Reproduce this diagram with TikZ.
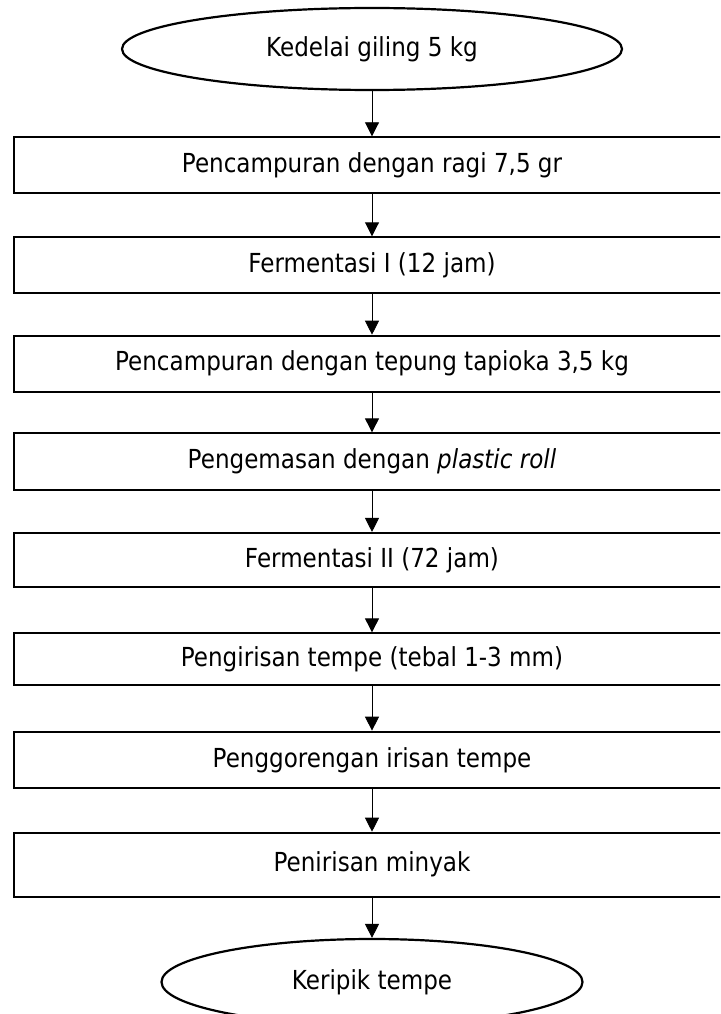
\documentclass[tikz,border=0pt]{standalone}
\usepackage{fontspec}
\setmainfont{DejaVu Sans}[FakeStretch=0.88]
\usetikzlibrary{shapes.geometric}
\usetikzlibrary{arrows.meta}

\begin{document}
\begin{tikzpicture}[x=1pt, y=-1pt,
  every node/.style={font=\fontsize{26.2}{30}\selectfont},
  proses/.style={draw, line width=2pt, minimum width=717pt, inner sep=0pt},
  ujung/.style={draw, ellipse, line width=2.2pt, inner sep=0pt},
  panah/.style={-{Triangle[width=14pt,length=14pt]}, line width=0.9pt}]
  \useasboundingbox (0,0) rectangle (720,1014);
  \clip (0,0) rectangle (720,1014);

  % awal dan akhir
  \node[ujung, minimum width=500pt, minimum height=82pt] (awal) at (372,49) {Kedelai giling 5 kg};
  \node[ujung, minimum width=421pt, minimum height=86pt] (akhir) at (372,982) {Keripik tempe};

  % tahapan proses
  \node[proses, minimum height=56pt] (campur) at (372,165.3) {Pencampuran dengan ragi 7,5 gr};
  \node[proses, minimum height=56pt] (ferm1) at (372,265.3) {Fermentasi I (12 jam)};
  \node[proses, minimum height=56pt] (tapioka) at (372,363.7) {Pencampuran dengan tepung tapioka 3,5 kg};
  \node[proses, minimum height=56.7pt] (kemas) at (372,461.7) {Pengemasan dengan \textit{plastic roll}};
  \node[proses, minimum height=53.7pt] (ferm2) at (372,559.8) {Fermentasi II (72 jam)};
  \node[proses, minimum height=51.7pt] (iris) at (372,659.2) {Pengirisan tempe (tebal 1-3 mm)};
  \node[proses, minimum height=56.7pt] (goreng) at (372,760) {Penggorengan irisan tempe};
  \node[proses, minimum height=64pt] (tiris) at (372,864.7) {Penirisan minyak};

  \foreach \a/\b in {awal/campur, campur/ferm1, ferm1/tapioka, tapioka/kemas,
                     kemas/ferm2, ferm2/iris, iris/goreng, goreng/tiris, tiris/akhir}
    \draw[panah] (\a) -- (\b);
\end{tikzpicture}
\end{document}
